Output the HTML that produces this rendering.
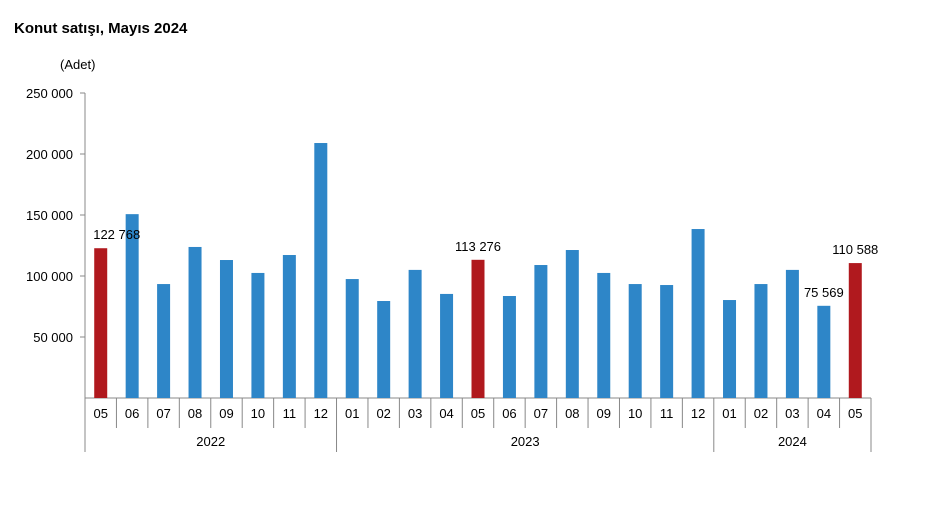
<!DOCTYPE html>
<html><head><meta charset="utf-8"><style>
body{margin:0;background:#fff;}
svg text{font-family:"Liberation Sans",Arial,sans-serif;fill:#000;}
</style></head><body>
<svg width="936" height="504" id="c">
<text x="14" y="33" font-size="15" font-weight="bold">Konut satışı, Mayıs 2024</text>
<text x="60" y="69" font-size="13">(Adet)</text>
<g id="g"></g>
</svg>
<script>
const months=["05","06","07","08","09","10","11","12","01","02","03","04","05","06","07","08","09","10","11","12","01","02","03","04","05"];
const values=[122768,150700,93400,123800,113100,102500,117200,209000,97500,79500,105000,85300,113276,83600,109000,121300,102500,93400,92600,138500,80300,93400,105000,75569,110588];
const highlighted=[0,12,24];
const labeled=[[0,"122 768"],[12,"113 276"],[23,"75 569"],[24,"110 588"]];
const yTicks=[50000,100000,150000,200000,250000];
const yTickLabels=["50 000","100 000","150 000","200 000","250 000"];
const years=[["2022",0,8],["2023",8,20],["2024",20,25]];
const NS="http://www.w3.org/2000/svg",g=document.getElementById("g");
const x0=85,x1=871,y0=398,yTop=93,cw=(x1-x0)/months.length;
const Y=v=>y0-(y0-yTop)*v/250000;
const X=i=>x0+cw*(i+0.5);
function mk(t,a,txt){const e=document.createElementNS(NS,t);for(const k in a)e.setAttribute(k,a[k]);if(txt!=null)e.textContent=txt;g.appendChild(e);return e;}
let e=mk("line",{x1:x0,y1:93,x2:x0,y2:y0,stroke:"#888"});


yTicks.forEach((v,i)=>{
 let t=mk("line",{x1:x0-5,y1:Y(v),x2:x0,y2:Y(v),stroke:"#888"});
 
 
 let l=mk("text",{x:x0-12,y:Y(v)+5,"text-anchor":"end","font-size":"13"},yTickLabels[i]);
 
 
});
e=mk("line",{x1:x0,y1:y0,x2:x1,y2:y0,stroke:"#888"});


for(let i=0;i<=months.length;i++){
 const isYear=years.some(y=>y[1]===i)||i===months.length;
 let s=mk("line",{x1:x0+cw*i,y1:y0,x2:x0+cw*i,y2:isYear?452:428,stroke:"#888"});
 
 
}
values.forEach((v,i)=>{
 const r=mk("rect",{x:X(i)-6.5,y:Y(v),width:13,height:y0-Y(v),fill:highlighted.includes(i)?"#B0191E":"#2E86C8"});
 
 
 const m=mk("text",{x:X(i),y:418,"text-anchor":"middle","font-size":"13"},months[i]);
 
 
});
labeled.forEach(([i,s])=>{
 const t=mk("text",{x:X(i)+(i===0?16:0),y:Y(values[i])-9,"text-anchor":"middle","font-size":"13"},s);
 
 
});
years.forEach(([n,a,b])=>{
 const t=mk("text",{x:x0+cw*(a+b)/2,y:446,"text-anchor":"middle","font-size":"13"},n);
 
 
});
</script>
</body></html>
